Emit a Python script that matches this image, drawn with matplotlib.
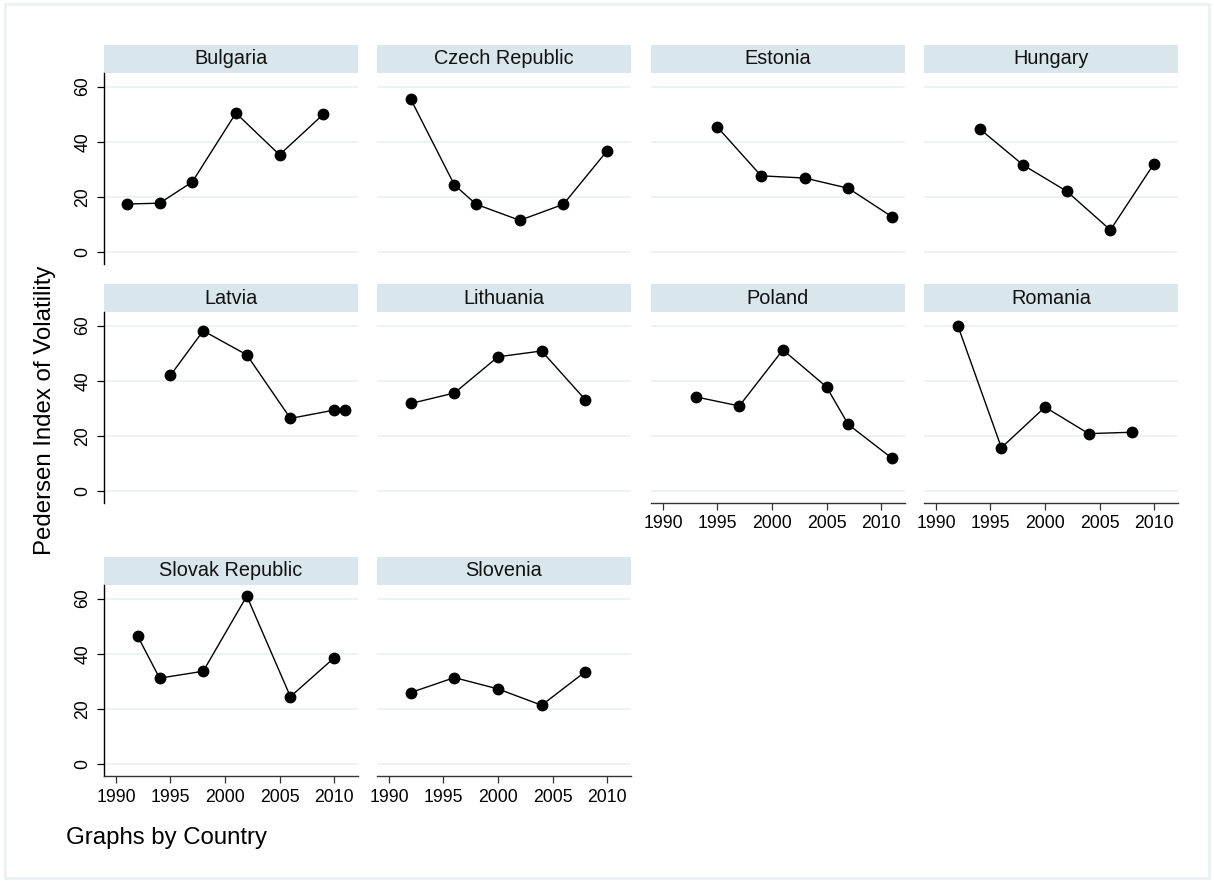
import matplotlib
matplotlib.use("Agg")
import matplotlib.pyplot as plt
from matplotlib.patches import Rectangle

plt.rcParams['font.family'] = ['Liberation Sans', 'DejaVu Sans']

# election years and Pedersen volatility, one pair of lists per country
bulgaria_years = [1991, 1994, 1997, 2001, 2005, 2009]
bulgaria_vol = [17.5, 17.8, 25.5, 50.4, 35.3, 49.9]

czech_years = [1992, 1996, 1998, 2002, 2006, 2010]
czech_vol = [55.4, 24.4, 17.4, 11.6, 17.4, 36.7]

estonia_years = [1995, 1999, 2003, 2007, 2011]
estonia_vol = [45.3, 27.7, 26.9, 23.2, 12.9]

hungary_years = [1994, 1998, 2002, 2006, 2010]
hungary_vol = [44.7, 31.6, 22.1, 8.1, 32.1]

latvia_years = [1995, 1998, 2002, 2006, 2010, 2011]
latvia_vol = [42.0, 58.1, 49.4, 26.4, 29.4, 29.4]

lithuania_years = [1992, 1996, 2000, 2004, 2008]
lithuania_vol = [31.8, 35.6, 48.7, 50.8, 33.2]

poland_years = [1993, 1997, 2001, 2005, 2007, 2011]
poland_vol = [34.2, 30.9, 51.2, 37.8, 24.2, 12.0]

romania_years = [1992, 1996, 2000, 2004, 2008]
romania_vol = [60.0, 15.8, 30.5, 20.9, 21.4]

slovak_years = [1992, 1994, 1998, 2002, 2006, 2010]
slovak_vol = [46.3, 31.2, 33.7, 60.9, 24.5, 38.5]

slovenia_years = [1992, 1996, 2000, 2004, 2008]
slovenia_vol = [26.0, 31.4, 27.3, 21.4, 33.5]

countries = ["Bulgaria", "Czech Republic", "Estonia", "Hungary", "Latvia",
             "Lithuania", "Poland", "Romania", "Slovak Republic", "Slovenia"]
series = [(bulgaria_years, bulgaria_vol), (czech_years, czech_vol),
          (estonia_years, estonia_vol), (hungary_years, hungary_vol),
          (latvia_years, latvia_vol), (lithuania_years, lithuania_vol),
          (poland_years, poland_vol), (romania_years, romania_vol),
          (slovak_years, slovak_vol), (slovenia_years, slovenia_vol)]

y_ticks = [0, 20, 40, 60]
x_ticks = [1990, 1995, 2000, 2005, 2010]

W, H = 1214, 882
fig = plt.figure(figsize=(W / 100, H / 100), dpi=100)
fig.patch.set_facecolor('white')


def rect(left, top, width, height):
    return [left / W, 1 - (top + height) / H, width / W, height / H]


grid_col = '#EAF1F3'
strip_col = '#D9E6EC'

# outer frame of the graph region
fig.patches.append(Rectangle((5 / W, 1 - 878 / H), 1204 / W, 874 / H,
                             transform=fig.transFigure, fill=False,
                             edgecolor=grid_col, linewidth=2.0))

col_left = [104, 377, 651, 924]
row_top = [73, 312, 585]
panel_w, panel_h, strip_h = 254, 191, 28

# panels that carry the x axis (bottom of each column)
x_axis_panels = {6, 7, 8, 9}

for i, (name, (yrs, vals)) in enumerate(zip(countries, series)):
    r, c = divmod(i, 4)
    left, top = col_left[c], row_top[r]

    # title strip
    sax = fig.add_axes(rect(left, top - strip_h, panel_w, strip_h))
    sax.set_facecolor(strip_col)
    sax.set_xticks([])
    sax.set_yticks([])
    for s in sax.spines.values():
        s.set_visible(False)
    sax.text(0.5, 0.5, name, ha='center', va='center', fontsize=14.3,
             color='#111111', transform=sax.transAxes)

    ax = fig.add_axes(rect(left, top, panel_w, panel_h))
    ax.set_xlim(1988.9, 2012.2)
    ax.set_ylim(-4.2, 64.9)
    for y in y_ticks:
        ax.axhline(y, color=grid_col, linewidth=1.2, zorder=0)
    ax.plot(yrs, vals, color='black', linewidth=1.0, marker='o',
            markersize=7.5, markerfacecolor='black', markeredgecolor='black',
            zorder=3)

    for s in ax.spines.values():
        s.set_visible(False)

    if c == 0:
        ax.spines['left'].set_visible(True)
        ax.spines['left'].set_color('black')
        ax.spines['left'].set_linewidth(1.0)
        ax.set_yticks(y_ticks)
        ax.set_yticklabels([str(v) for v in y_ticks], rotation=90,
                           va='center', fontsize=12.7)
        ax.tick_params(axis='y', length=5, width=0.9, pad=4)
    else:
        ax.set_yticks([])

    if i in x_axis_panels:
        ax.spines['bottom'].set_visible(True)
        ax.spines['bottom'].set_color('#333333')
        ax.spines['bottom'].set_linewidth(1.0)
        ax.set_xticks(x_ticks)
        ax.set_xticklabels([str(v) for v in x_ticks], fontsize=12.7)
        ax.tick_params(axis='x', length=5, width=0.9, pad=4,
                       color='#333333')
    else:
        ax.set_xticks([])

fig.text(45 / W, 1 - 410 / H, 'Pedersen Index of Volatility', rotation=90,
         ha='center', va='center', fontsize=17.3)
fig.text(66 / W, 1 - 838 / H, 'Graphs by Country', ha='left', va='center',
         fontsize=17.3)

fig.savefig('out.png', dpi=100, facecolor='white')
